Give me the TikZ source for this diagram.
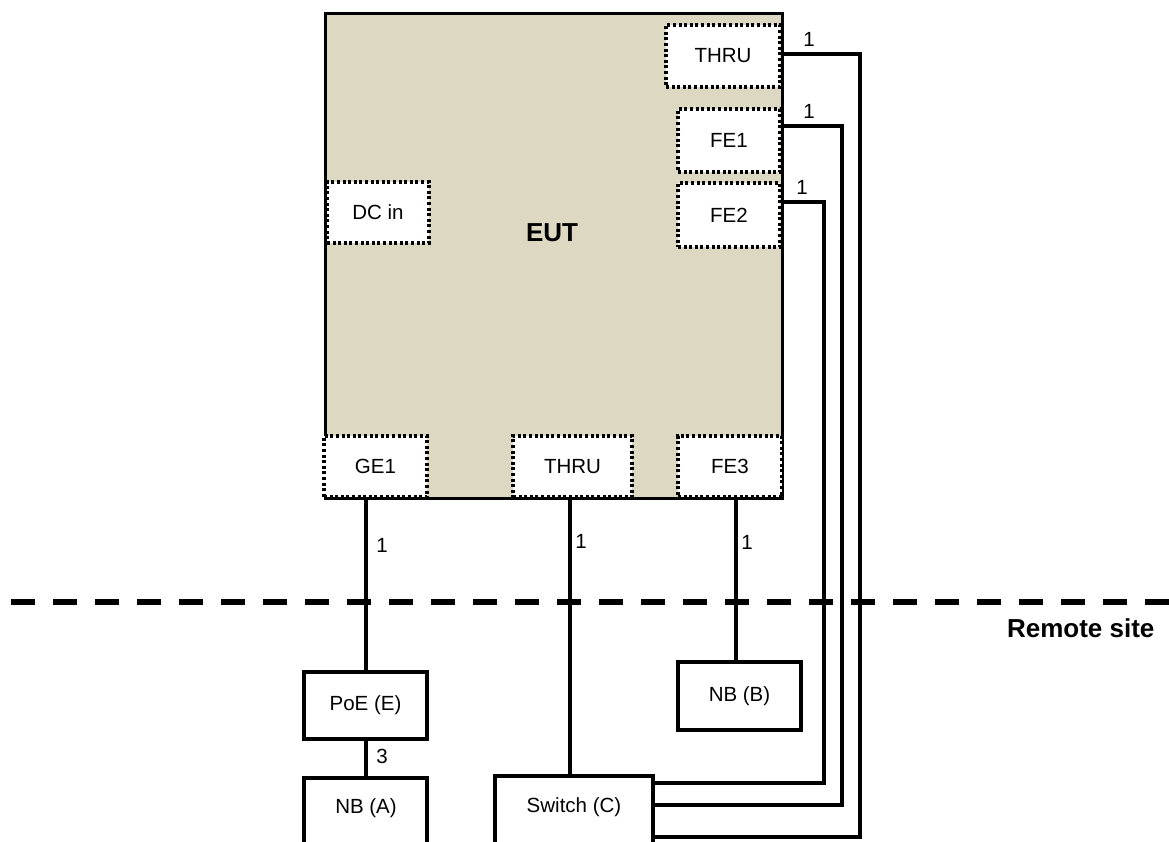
\documentclass[tikz,border=0pt]{standalone}
\usepackage{fontspec}
\setmainfont{Liberation Sans}
\definecolor{eutfill}{RGB}{221,216,194}
\begin{document}
\begin{tikzpicture}[x=1pt,y=-1pt,
  txt/.style={font=\fontsize{20.5}{24}\selectfont},
  boldtxt/.style={font=\fontsize{26}{30}\selectfont\bfseries},
  port/.style={draw, fill=white, line width=3.3pt, dash pattern=on 3pt off 2.6pt, inner sep=0pt, txt},
  devbox/.style={draw, fill=white, line width=3.6pt, inner sep=0pt, txt},
  wire/.style={line width=4pt},
  lbl/.style={txt, inner sep=0pt}]
\useasboundingbox (0,0) rectangle (1169,841);
\clip (0,0) rectangle (1169,841);
% EUT
\node[draw, fill=eutfill, line width=3.4pt, minimum width=457, minimum height=485, anchor=north west, inner sep=0pt] (eut) at (324,12) {};
\node[boldtxt] (eutlbl) at (552,233) {EUT};
% ports
\node[port, minimum width=114, minimum height=62] (thru1) at (723,56) {THRU};
\node[port, minimum width=102, minimum height=63] (fe1) at (729,140.5) {FE1};
\node[port, minimum width=102, minimum height=64] (fe2) at (729,215) {FE2};
\node[port, minimum width=102, minimum height=61] (dcin) at (378,212.5) {DC in};
\node[port, minimum width=103, minimum height=61] (ge1) at (375.5,466.5) {GE1};
\node[port, minimum width=119, minimum height=61] (thru2) at (572.5,466.5) {THRU};
\node[port, minimum width=104, minimum height=61] (fe3) at (730,466.5) {FE3};
% separator
\coordinate (dl) at (11,602);
\coordinate (dr) at (1169,602);
\draw[line width=5.5pt, dash pattern=on 24pt off 18pt] (dl) -- (dr);
\node[boldtxt, anchor=east] (remote) at (1158,628) {Remote site};
% devices
\node[devbox, minimum width=123, minimum height=67] (poe) at (365.5,705.5) {PoE (E)};
\node[devbox, minimum width=123, minimum height=100, anchor=north] (nba) at (365.5,776) {};
\node[txt] (nbatxt) at (366,808) {NB (A)};
\node[devbox, minimum width=123, minimum height=68] (nbb) at (739.5,696) {NB (B)};
\node[devbox, minimum width=158, minimum height=100, anchor=north] (sw) at (574,774) {};
\node[txt] (swtxt) at (574,807) {Switch (C)};
% wires
\draw[wire] (ge1.south -| poe.north) -- (poe.north);
\draw[wire] (poe.south) -- (nba.north);
\coordinate (swin) at ([xshift=-4pt]sw.north);
\draw[wire] (thru2.south -| swin) -- (swin);
\coordinate (nbbin) at ([xshift=-3.5pt]nbb.north);
\draw[wire] (fe3.south -| nbbin) -- (nbbin);
\draw[wire] ([yshift=-9pt]sw.north east) -- ++(169,0) |- ([yshift=13pt]fe2.east);
\draw[wire] ([yshift=-31pt]sw.north east) -- ++(187,0) |- ([yshift=14.5pt]fe1.east);
\draw[wire] ([yshift=-63pt]sw.north east) -- ++(205,0) |- ([yshift=2pt]thru1.east);
% labels
\node[lbl] (l1) at (382,545) {1};
\node[lbl] (l2) at (581,541) {1};
\node[lbl] (l3) at (747,542) {1};
\node[lbl] (l4) at (382,756) {3};
\node[lbl] (l5) at (802,187) {1};
\node[lbl] (l6) at (809,111) {1};
\node[lbl] (l7) at (809,39) {1};
\end{tikzpicture}
\end{document}
